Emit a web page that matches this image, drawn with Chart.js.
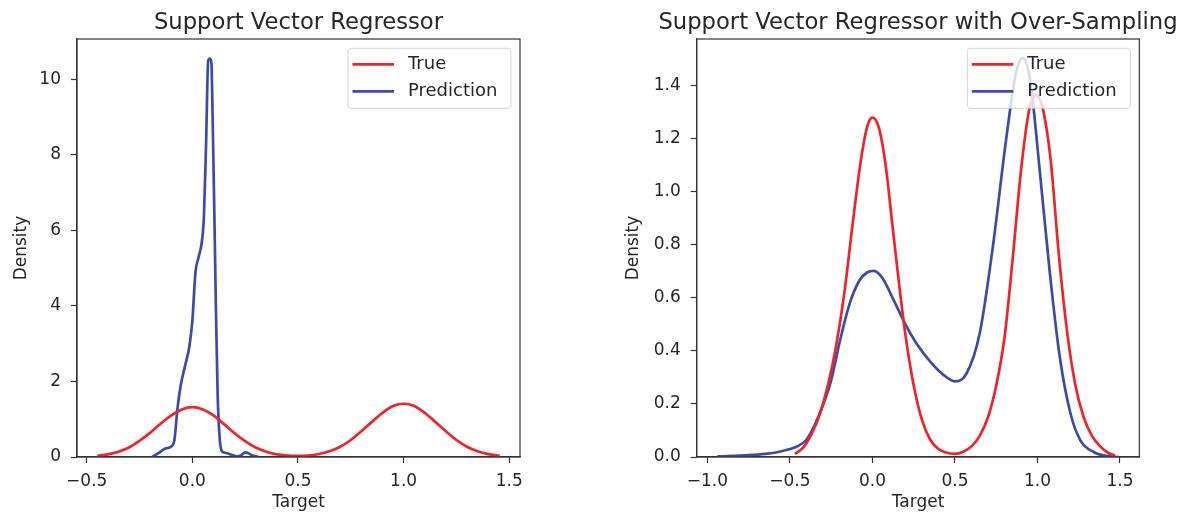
<!DOCTYPE html>
<html>
<head>
<meta charset="utf-8">
<script src="https://cdn.jsdelivr.net/npm/chart.js@4.4.0/dist/chart.umd.min.js"></script>
<style>
  body { margin: 0; background: #fff; }
  #wrap { position: relative; width: 1185px; height: 516px; }
  canvas { position: absolute; top: 0; }
  #svr { left: 0; }
  #svros { left: 592px; }
</style>
</head>
<body>
<div id="wrap">
  <canvas id="svr" width="592" height="516"></canvas>
  <canvas id="svros" width="593" height="516"></canvas>
</div>
<script>
Chart.defaults.font.family = "'DejaVu Sans', sans-serif";
Chart.defaults.color = '#262626';

const RED = 'rgb(238, 36, 40)';
const BLUE = 'rgb(59, 76, 168)';
const INK = '#333';

// density curves, plain SVR
const svrTrueX = [-0.45, -0.4, -0.35, -0.3, -0.25, -0.2, -0.15, -0.1, -0.05, 0, 0.05, 0.1, 0.15, 0.2, 0.25, 0.3, 0.35, 0.4, 0.45, 0.5,
  0.55, 0.6, 0.65, 0.7, 0.75, 0.8, 0.85, 0.9, 0.95, 1, 1.05, 1.1, 1.15, 1.2, 1.25, 1.3, 1.35, 1.4, 1.455];
const svrTrueY = [0.03, 0.07, 0.14, 0.25, 0.43, 0.64, 0.88, 1.1, 1.26, 1.32, 1.26, 1.1, 0.87, 0.63, 0.42, 0.25, 0.14, 0.07, 0.04, 0.03,
  0.04, 0.08, 0.15, 0.27, 0.45, 0.68, 0.93, 1.17, 1.35, 1.41, 1.35, 1.17, 0.93, 0.68, 0.45, 0.27, 0.15, 0.075, 0.03];
const svrPredX = [-0.19, -0.16, -0.13, -0.1, -0.085, -0.07, -0.055, -0.035, -0.015, 0, 0.015, 0.03, 0.045, 0.055, 0.065, 0.075, 0.082,
  0.09, 0.096, 0.104, 0.112, 0.12, 0.13, 0.14, 0.15, 0.165, 0.19, 0.21, 0.23, 0.25, 0.265, 0.285, 0.315];
const svrPredY = [0.0, 0.1, 0.22, 0.28, 0.45, 1.3, 1.9, 2.4, 2.9, 3.6, 4.9, 5.3, 5.7, 6.4, 8.3, 10.5, 10.55,
  10.45, 9.0, 6.5, 3.8, 1.6, 0.45, 0.15, 0.12, 0.1, 0.05, 0.02, 0.04, 0.12, 0.1, 0.04, 0.0];

// density curves, SVR trained on over-sampled data
const osTrueX = [-0.47, -0.42, -0.37, -0.32, -0.27, -0.22, -0.17, -0.12, -0.07, -0.03, 0.0, 0.04, 0.08, 0.12, 0.16, 0.2, 0.25, 0.3,
  0.35, 0.4, 0.45, 0.5, 0.55, 0.6, 0.65, 0.7, 0.75, 0.8, 0.85, 0.9, 0.95, 0.99, 1.03, 1.08, 1.13, 1.18, 1.23, 1.28, 1.33, 1.38, 1.43, 1.47];
const osTrueY = [0.012, 0.035, 0.085, 0.16, 0.27, 0.42, 0.62, 0.88, 1.12, 1.25, 1.28, 1.24, 1.1, 0.88, 0.66, 0.46, 0.27, 0.14,
  0.065, 0.03, 0.016, 0.012, 0.02, 0.04, 0.08, 0.15, 0.27, 0.45, 0.75, 1.08, 1.31, 1.365, 1.32, 1.12, 0.76, 0.47, 0.27, 0.15, 0.08, 0.04, 0.015, 0.006];
const osPredX = [-0.94, -0.85, -0.75, -0.65, -0.57, -0.5, -0.45, -0.4, -0.35, -0.3, -0.25, -0.2, -0.14, -0.08, -0.03, 0.01, 0.06,
  0.13, 0.2, 0.27, 0.35, 0.43, 0.5, 0.57, 0.65, 0.73, 0.81, 0.87, 0.91, 0.955, 1.015, 1.075, 1.135, 1.2, 1.26, 1.34, 1.42, 1.495];
const osPredY = [0.002, 0.004, 0.007, 0.012, 0.019, 0.03, 0.042, 0.065, 0.12, 0.195, 0.29, 0.43, 0.575, 0.665, 0.697, 0.702, 0.675,
  0.59, 0.5, 0.425, 0.36, 0.31, 0.285, 0.315, 0.467, 0.795, 1.198, 1.45, 1.505, 1.425, 1.072, 0.694, 0.378, 0.164, 0.063, 0.019, 0.004, 0.0];

const svrXTicks = [-0.5, 0, 0.5, 1, 1.5];
const svrYTicks = [0, 2, 4, 6, 8, 10];
const osXTicks = [-1, -0.5, 0, 0.5, 1, 1.5];
const osYTicks = [0, 0.2, 0.4, 0.6, 0.8, 1.0, 1.2, 1.4];

function fmt1(v) {
  return v.toFixed(1).replace('-', '\u2212');
}

function series(label, xs, ys, color) {
  return {
    label: label,
    data: xs.map((x, i) => ({ x: x, y: ys[i] })),
    borderColor: color,
    borderWidth: 2.7,
    pointRadius: 0,
    fill: false,
    cubicInterpolationMode: 'monotone'
  };
}

// title, box around the plot and a legend in the upper right corner
const frameLegend = {
  id: 'frameLegend',
  afterDatasetsDraw(chart, args, opts) {
    const ctx = chart.ctx;
    const a = chart.chartArea;
    ctx.save();
    ctx.strokeStyle = INK;
    ctx.lineWidth = 1.2;
    ctx.strokeRect(a.left, a.top, a.right - a.left, a.bottom - a.top);

    ctx.fillStyle = '#262626';
    ctx.font = "22.7px 'DejaVu Sans'";
    ctx.textAlign = 'center';
    ctx.textBaseline = 'alphabetic';
    ctx.fillText(opts.title, (a.left + a.right) / 2, 29);

    const w = 163, h = 60;
    const x0 = a.right - 9 - w, y0 = a.top + 9.3;
    ctx.beginPath();
    ctx.roundRect(x0, y0, w, h, 3);
    ctx.fillStyle = 'rgba(255, 255, 255, 0.8)';
    ctx.fill();
    ctx.strokeStyle = 'rgba(204, 204, 204, 0.8)';
    ctx.lineWidth = 1;
    ctx.stroke();

    ctx.font = "18px 'DejaVu Sans'";
    ctx.textAlign = 'left';
    ctx.textBaseline = 'middle';
    chart.data.datasets.forEach((ds, i) => {
      const y = y0 + 16 + i * 27;
      ctx.strokeStyle = ds.borderColor;
      ctx.lineWidth = 2.7;
      ctx.beginPath();
      ctx.moveTo(x0 + 4.5, y);
      ctx.lineTo(x0 + 46, y);
      ctx.stroke();
      ctx.fillStyle = '#262626';
      ctx.fillText(ds.label, x0 + 60, y);
    });
    ctx.restore();
  }
};

function makeChart(id, cfg) {
  return new Chart(document.getElementById(id), {
    type: 'line',
    data: {
      datasets: [
        series('True', cfg.trueX, cfg.trueY, RED),
        series('Prediction', cfg.predX, cfg.predY, BLUE)
      ]
    },
    options: {
      responsive: false,
      animation: false,
      layout: { padding: { left: 0, top: 39, right: cfg.padRight, bottom: 0 } },
      plugins: {
        legend: { display: false },
        tooltip: { enabled: false },
        frameLegend: { title: cfg.title }
      },
      scales: {
        x: {
          type: 'linear',
          min: cfg.xMin,
          max: cfg.xMax,
          afterBuildTicks: s => { s.ticks = cfg.xTicks.map(v => ({ value: v })); },
          afterFit: s => { s.height = 59; },
          grid: { drawOnChartArea: false, drawTicks: true, tickLength: 6, tickColor: INK, tickWidth: 1.2 },
          border: { color: INK, width: 1.2 },
          ticks: { padding: 8, font: { size: 17 }, color: '#262626', maxRotation: 0, autoSkip: false, callback: v => fmt1(v) },
          title: { display: true, text: 'Target', font: { size: 17 }, color: '#262626', padding: { top: 0, bottom: 3 } }
        },
        y: {
          type: 'linear',
          min: 0,
          max: cfg.yMax,
          afterBuildTicks: s => { s.ticks = cfg.yTicks.map(v => ({ value: v })); },
          afterFit: s => { s.width = cfg.yWidth; },
          grid: { drawOnChartArea: false, drawTicks: true, tickLength: 6, tickColor: INK, tickWidth: 1.2 },
          border: { color: INK, width: 1.2 },
          ticks: { padding: 10, font: { size: 17 }, color: '#262626', autoSkip: false, callback: cfg.yFormat },
          title: { display: true, text: 'Density', font: { size: 17 }, color: '#262626', padding: { top: cfg.yTitlePad, bottom: 0 } }
        }
      }
    },
    plugins: [frameLegend]
  });
}

makeChart('svr', {
  title: 'Support Vector Regressor',
  trueX: svrTrueX, trueY: svrTrueY, predX: svrPredX, predY: svrPredY,
  xTicks: svrXTicks, yTicks: svrYTicks,
  xMin: -0.546, xMax: 1.551, yMax: 11.07,
  yFormat: v => String(v),
  padRight: 72, yWidth: 77, yTitlePad: 11.3
});

makeChart('svros', {
  title: 'Support Vector Regressor with Over-Sampling',
  trueX: osTrueX, trueY: osTrueY, predX: osPredX, predY: osPredY,
  xTicks: osXTicks, yTicks: osYTicks,
  xMin: -1.065, xMax: 1.617, yMax: 1.577,
  yFormat: v => fmt1(v),
  padRight: 45.7, yWidth: 104.7, yTitlePad: 31.6
});
</script>
</body>
</html>
